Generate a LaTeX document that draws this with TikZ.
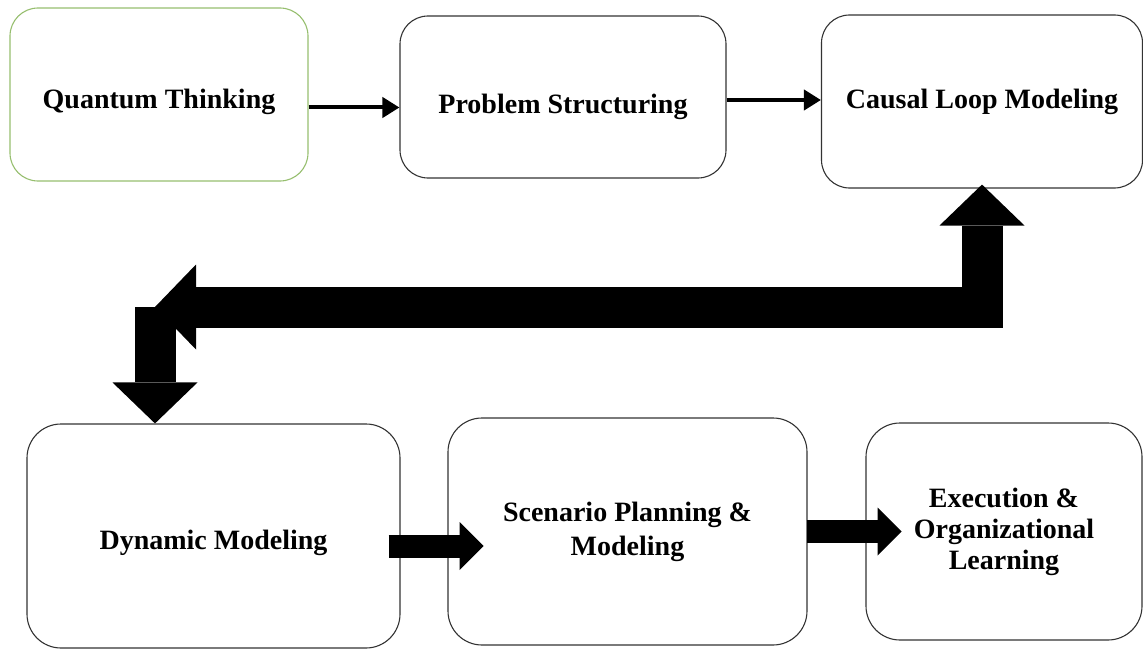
\documentclass[tikz,border=0pt]{standalone}
\usepackage{fontspec}
\setmainfont{Liberation Serif}
\usepackage{xcolor}
\usetikzlibrary{arrows.meta,positioning}
\definecolor{boxgreen}{RGB}{150,190,110}

\begin{document}
\begin{tikzpicture} [
      x = 1pt, y = -1pt,
      every node/.style = { draw = black!80, line width = 1.1pt, rounded corners = 28pt, align = center, font = \fontsize{28}{31}\selectfont\bfseries },
      box/.style 2 args = { minimum width = #1, minimum height = #2 },
      thin arrow/.style = { line width = 4pt, -{Triangle[length = 17pt, width = 20pt]} },
      fat arrow/.style = { line width = 41pt, line join = miter },
      FatTip/.tip = { Triangle[length = 41pt, width = 85pt, line width = 0pt] },
      mid arrow/.style = { line width = 23pt, -{Triangle[length = 24pt, width = 48pt, line width = 0pt]} }
      ]

  \useasboundingbox (0,0) rectangle (1143,650);

  % top row
  \node [box = {298pt}{173pt}, draw = boxgreen, text height = 35pt] (qt) at (159,94.5) {Quantum Thinking};
  \node [box = {326pt}{162pt}, text height = 40pt] (ps) at (563,97) {Problem Structuring};
  \node [box = {321pt}{173pt}] (clm) at (982,101.5) {Causal Loop Modeling};

  % bottom row
  \node [box = {373pt}{224pt}, rounded corners = 34pt, text height = 33pt] (dm) at (213.5,536) {Dynamic Modeling};
  \node [box = {359pt}{227pt}, rounded corners = 34pt] (sp) at (627.5,531.5) {Scenario Planning \&\\[3pt]Modeling};
  \node [box = {276pt}{217pt}, rounded corners = 34pt] (eol) at (1004,531.5) {Execution \&\\Organizational\\Learning};

  \draw [thin arrow] ([yshift = -13pt]qt.east) -- ([yshift = -13pt]qt.east -| ps.west);
  \draw [thin arrow] ([yshift = -3pt]ps.east) -- ([yshift = -3pt]ps.east -| clm.west);

  % feedback loop
  \coordinate (lt) at (155,307);
  \coordinate (bend) at (clm.south |- lt);
  \draw [fat arrow, FatTip-FatTip] (lt) -- (bend) -- ([yshift = 4pt]clm.south);
  \draw [fat arrow, -FatTip] (lt) -- (lt |- dm.north);

  \draw [mid arrow] ([xshift = -12pt, yshift = -10pt]dm.east) -- ++(95,0);
  \draw [mid arrow] ([xshift = -1pt]sp.east) -- ++(95,0);
\end{tikzpicture}
\end{document}
